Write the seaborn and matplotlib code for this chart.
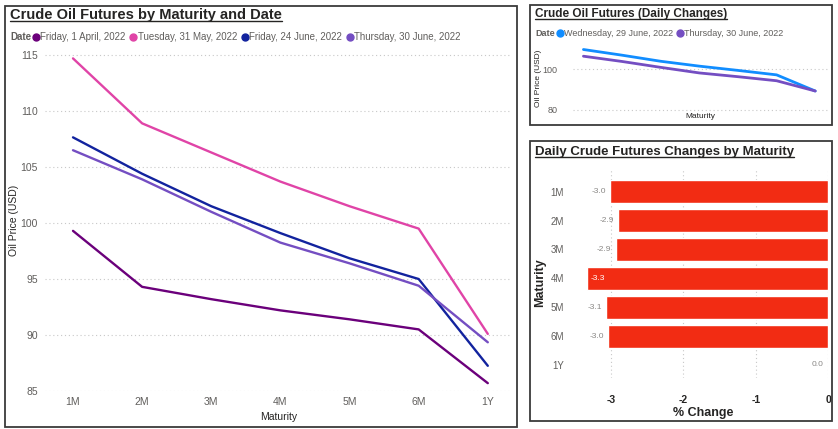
import numpy as np
import pandas as pd
import matplotlib
matplotlib.use("Agg")
import matplotlib.pyplot as plt
from matplotlib.patches import Rectangle
from matplotlib.lines import Line2D
import seaborn as sns

maturities = ["1M", "2M", "3M", "4M", "5M", "6M", "1Y"]
dates = ["Friday, 1 April, 2022", "Tuesday, 31 May, 2022",
         "Friday, 24 June, 2022", "Thursday, 30 June, 2022"]
apr_01 = [99.3, 94.3, 93.2, 92.2, 91.4, 90.5, 85.7]
may_31 = [114.7, 108.9, 106.3, 103.7, 101.5, 99.5, 90.1]
jun_24 = [107.65, 104.4, 101.5, 99.1, 96.85, 95.0, 87.25]
jun_30 = [106.5, 103.9, 101.0, 98.25, 96.4, 94.4, 89.35]

daily_dates = ["Wednesday, 29 June, 2022", "Thursday, 30 June, 2022"]
jun_29 = [109.8, 107.0, 104.0, 101.6, 99.5, 97.3, 89.35]

pct_change = [-3.02, -2.90, -2.94, -3.33, -3.07, -3.04, 0.0]

palette_main = ["#6B007B", "#E044A7", "#12239E", "#744EC2"]
palette_daily = ["#118DFF", "#744EC2"]
BAR_RED = "#F22C13"
GREY = "#605E5C"
DARK = "#252423"

W, H = 838, 429


def box(l, t, r, b):
    return [l / W, 1 - b / H, (r - l) / W, (b - t) / H]


def fx(x):
    return x / W


def fy(y):
    return 1 - y / H


sns.set_style("white")
plt.rcParams["font.family"] = ["Liberation Sans", "DejaVu Sans"]

df_main = pd.DataFrame({
    "Maturity": maturities * 4,
    "Date": np.repeat(dates, len(maturities)),
    "Price": apr_01 + may_31 + jun_24 + jun_30,
})
df_daily = pd.DataFrame({
    "Maturity": maturities * 2,
    "Date": np.repeat(daily_dates, len(maturities)),
    "Price": jun_29 + jun_30,
})
df_bar = pd.DataFrame({"Maturity": maturities, "Change": pct_change})

fig = plt.figure(figsize=(W / 100, H / 100), dpi=100)

# panel borders
for (l, t, r, b) in [(5, 6, 517, 427), (530, 5, 832, 125), (530, 141, 832, 421)]:
    fig.patches.append(Rectangle((fx(l), fy(b)), (r - l) / W, (b - t) / H,
                                 transform=fig.transFigure, fill=False,
                                 edgecolor="#3a3a3a", lw=1.3, zorder=0))

grid_kw = dict(linestyle=(0, (1, 2.5)), color="#c8c8c8", lw=0.8)

# ---- main line chart
ax1 = fig.add_axes(box(45, 50, 512, 391))
sns.lineplot(data=df_main, x="Maturity", y="Price", hue="Date", hue_order=dates,
             palette=palette_main, lw=1.7, legend=False, ax=ax1, sort=False)
ax1.set_xlim(-0.405, 6.35)
ax1.set_ylim(85, 115.45)
ax1.set_yticks([85, 90, 95, 100, 105, 110, 115])
ax1.yaxis.grid(True, **grid_kw)
ax1.set_axisbelow(True)
for s in ax1.spines.values():
    s.set_visible(False)
ax1.tick_params(axis="both", length=0, labelsize=7.5, labelcolor=GREY, pad=4)
ax1.tick_params(axis="y", pad=5)
ax1.set_xlabel("Maturity", fontsize=7.5, color=DARK, labelpad=4)
ax1.set_ylabel("")
fig.text(fx(14), fy(220), "Oil Price (USD)", fontsize=7.5, color=DARK,
         rotation=90, ha="center", va="center")

fig.text(fx(10), fy(37), "Date", fontsize=7, fontweight="bold", color=GREY, va="center")
h1 = [Line2D([], [], marker="o", ls="", color=c, markersize=5) for c in palette_main]
fig.legend(h1, dates, loc="center left", bbox_to_anchor=(fx(33), fy(37)),
           bbox_transform=fig.transFigure, ncol=4, frameon=False, fontsize=7,
           labelcolor=GREY, handlelength=0.6, handletextpad=0.15, columnspacing=0.5,
           borderpad=0, borderaxespad=0)

# ---- daily changes line chart
ax2 = fig.add_axes(box(573, 42, 828, 112))
sns.lineplot(data=df_daily, x="Maturity", y="Price", hue="Date", hue_order=daily_dates,
             palette=palette_daily, lw=2, legend=False, ax=ax2, sort=False)
ax2.set_xlim(-0.27, 6.33)
ax2.set_ylim(79, 113.5)
ax2.set_yticks([80, 100])
ax2.set_xticks([])
ax2.yaxis.grid(True, **grid_kw)
for s in ax2.spines.values():
    s.set_visible(False)
ax2.tick_params(axis="both", length=0, labelsize=6.5, labelcolor=GREY, pad=11)
ax2.set_xlabel("Maturity", fontsize=6, color=DARK, labelpad=1)
ax2.set_ylabel("")
fig.text(fx(538), fy(78), "Oil Price (USD)", fontsize=6, color=DARK,
         rotation=90, ha="center", va="center")

fig.text(fx(535), fy(34), "Date", fontsize=6.5, fontweight="bold", color=GREY, va="center")
h2 = [Line2D([], [], marker="o", ls="", color=c, markersize=5) for c in palette_daily]
fig.legend(h2, daily_dates, loc="center left", bbox_to_anchor=(fx(557), fy(34)),
           bbox_transform=fig.transFigure, ncol=2, frameon=False, fontsize=6.5,
           labelcolor=GREY, handlelength=0.6, handletextpad=0.15, columnspacing=0.5,
           borderpad=0, borderaxespad=0)

# ---- bar chart
ax3 = fig.add_axes(box(578, 170, 828, 378))
sns.barplot(data=df_bar, y="Maturity", x="Change", order=maturities, color=BAR_RED,
            saturation=1, width=0.8, ax=ax3, orient="h")
ax3.set_xlim(-3.46, 0)
ax3.set_ylim(6.45, -0.75)
ax3.set_xticks([-3, -2, -1, 0])
ax3.set_xticklabels(["-3", "-2", "-1", "0"])
ax3.xaxis.grid(True, **grid_kw)
ax3.set_axisbelow(True)
for s in ax3.spines.values():
    s.set_visible(False)
ax3.tick_params(axis="y", length=0, labelsize=7, labelcolor=GREY, pad=10)
ax3.tick_params(axis="x", length=0, labelsize=7.5, labelcolor=DARK, pad=12)
for lbl in ax3.get_xticklabels():
    lbl.set_fontweight("bold")
ax3.set_xlabel("% Change", fontsize=9, fontweight="bold", color=DARK, labelpad=2)
ax3.set_ylabel("")
fig.text(fx(540), fy(283), "Maturity", fontsize=9, fontweight="bold", color=DARK,
         rotation=90, ha="center", va="center")

x_lo = ax3.get_xlim()[0]
for i, v in enumerate(pct_change):
    if v - x_lo < 0.3 and v < 0:
        ax3.annotate(f"{v:.1f}", (v, i), xytext=(2, 0), textcoords="offset points",
                     ha="left", va="center", fontsize=6, color="white")
    else:
        ax3.annotate(f"{v:.1f}", (v, i), xytext=(-3, 0), textcoords="offset points",
                     ha="right", va="center", fontsize=6, color="#8a8886")

# ---- titles with underline
titles = [("Crude Oil Futures by Maturity and Date", 10, 15, 10.5),
          ("Crude Oil Futures (Daily Changes)", 535, 14, 8.5),
          ("Daily Crude Futures Changes by Maturity", 535, 152, 9.5)]
fig.canvas.draw()
renderer = fig.canvas.get_renderer()
for txt, x, y, size in titles:
    t = fig.text(fx(x), fy(y), txt, fontsize=size, fontweight="bold", color=DARK,
                 va="center", ha="left")
    bb = t.get_window_extent(renderer=renderer)
    uy = bb.y0 + 1
    fig.lines.append(Line2D([bb.x0 / W, bb.x1 / W], [uy / H, uy / H],
                            transform=fig.transFigure, color=DARK, lw=1.0))

fig.savefig("out.png", dpi=100)
